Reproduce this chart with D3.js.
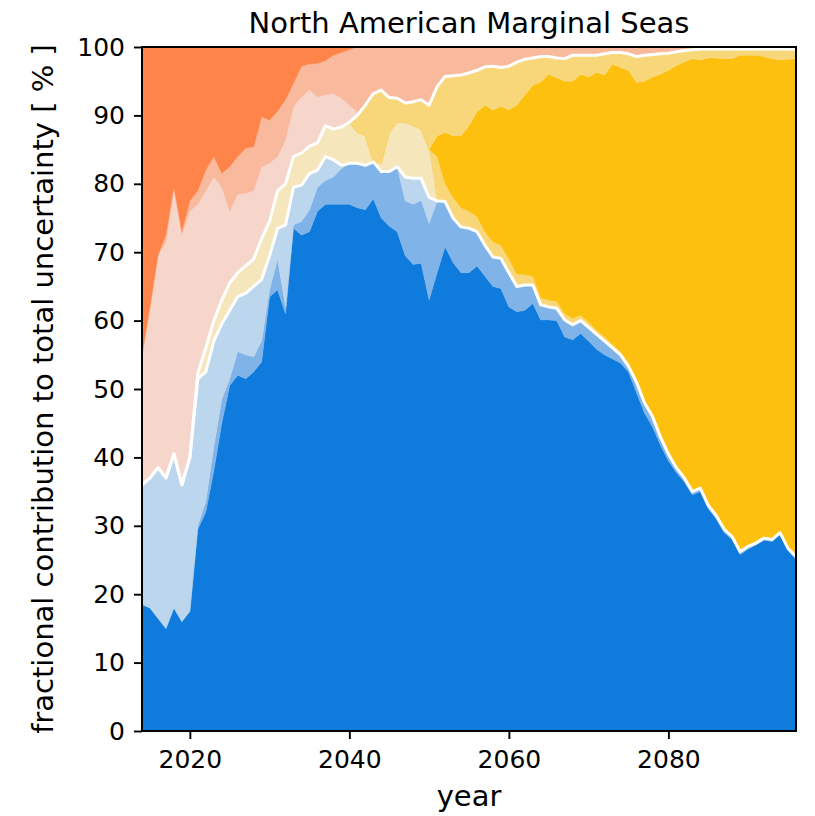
<!DOCTYPE html>
<html lang="en">
<head>
<meta charset="UTF-8">
<title>North American Marginal Seas</title>
<script src="https://d3js.org/d3.v7.min.js"></script>
<style>
  body { margin: 0; background: #fff; }
  svg { display: block; font-family: "DejaVu Sans", sans-serif; }
</style>
</head>
<body>
<svg id="chart" width="815" height="816"></svg>
<script>
// years on the x axis
const years = d3.range(2014, 2097);

// upper edge of each coloured band, in % (null = band absent that year)
const blueDarkTop = [
  18.5, 18.0, 16.5, 15.0, 18.0, 16.0, 17.5, 29.5, 32.0, 38.0,
  45.0, 50.5, 52.0, 51.5, 52.5, 54.0, 63.5, 64.5, 61.0, 73.5,
  72.5, 73.0, 76.0, 77.0, 77.0, 77.0, 77.0, 76.5, 76.2, 77.8,
  75.0, 73.8, 73.0, 69.5, 68.2, 68.4, 63.0, 67.0, 70.8, 68.5,
  67.0, 67.0, 68.0, 66.5, 65.0, 64.7, 62.0, 61.3, 61.5, 62.5,
  60.1, 60.1, 60.0, 57.6, 57.2, 58.1, 57.0, 55.8, 55.0, 54.4,
  53.8, 52.5, 49.5, 46.5, 44.5, 41.8, 39.5, 37.8, 36.4, 34.5,
  35.0, 32.5, 31.0, 29.0, 28.0, 25.8, 26.6, 27.2, 27.9, 27.7,
  28.7, 26.4, 25.2
];
const blueMidTop = [
  18.5, 18.0, 16.5, 15.0, 18.0, 16.0, 17.5, 30.0, 33.5, 41.5,
  48.5, 51.5, 55.5, 55.0, 54.7, 57.0, 64.5, 69.0, 62.0, 74.0,
  74.5, 76.2, 79.5, 80.5, 81.0, 82.2, 83.0, 83.0, 82.7, 83.2,
  81.8, 81.8, 82.5, 77.5, 77.0, 77.6, 74.2, 77.5, 77.4, 75.0,
  73.7, 73.5, 73.0, 71.0, 69.3, 69.1, 67.0, 65.0, 65.2, 65.2,
  62.3, 62.0, 61.8, 60.1, 59.4, 60.0, 59.0, 58.0, 57.0, 56.0,
  55.0, 53.3, 51.0, 48.0, 46.0, 43.0, 40.5, 38.5, 37.0, 35.0,
  35.5, 33.0, 31.5, 29.5, 28.4, 26.2, 27.0, 27.5, 28.2, 28.0,
  29.0, 26.7, 25.5
];
const blueTop = [
  36.0, 37.0, 38.5, 37.0, 40.5, 36.0, 40.0, 51.5, 52.5, 57.0,
  59.5, 61.5, 63.5, 64.0, 65.0, 66.0, 69.5, 73.5, 74.0, 79.5,
  79.8, 81.5, 82.0, 84.0, 83.5, 82.7, 83.0, 83.0, 82.7, 83.2,
  81.8, 81.8, 82.5, 81.0, 80.8, 80.8, 78.0, 77.5, 77.4, 75.0,
  73.7, 73.5, 73.0, 71.0, 69.3, 69.1, 67.0, 65.0, 65.2, 65.2,
  62.3, 62.0, 61.8, 60.1, 59.4, 60.0, 59.0, 58.0, 57.0, 56.0,
  55.0, 53.3, 51.0, 48.0, 46.0, 43.0, 40.5, 38.5, 37.0, 35.0,
  35.5, 33.0, 31.5, 29.5, 28.4, 26.2, 27.0, 27.5, 28.2, 28.0,
  29.0, 26.7, 25.5
];
const yellowLightTop = [
  null, null, null, null, null, null, null, 52.3, 56.0, 60.0,
  63.0, 65.5, 67.0, 68.0, 69.0, 72.0, 74.5, 79.0, 80.0, 84.0,
  84.5, 85.5, 86.0, 88.5, 88.0, 88.3, 89.0, 87.5, 87.0, 83.2,
  83.0, 87.5, 89.0, 89.0, 88.5, 88.0, 85.0, null, null, null,
  null, null, null, null, null, null, null, null, null, null,
  null, null, null, null, null, null, null, null, null, null,
  null, null, null, null, null, null, null, null, null, null,
  null, null, null, null, null, null, null, null, null, null,
  null, null, null
];
const yellowMidTop = [
  null, null, null, null, null, null, null, null, null, null,
  null, null, null, null, null, null, null, null, null, null,
  null, null, null, null, null, null, null, null, null, null,
  null, null, null, null, null, null, null, 84.0, 80.0, 78.0,
  76.5, 76.0, 75.2, 73.0, 71.5, 71.0, 69.0, 66.8, 66.7, 66.5,
  63.3, 63.0, 62.8, 61.0, 60.3, 60.8, 59.8, 58.6, 57.6, 56.5,
  55.5, 53.8, 51.4, 48.3, 46.2, 43.2, 40.6, 38.6, null, null,
  null, null, null, null, null, null, null, null, null, null,
  null, null, null
];
const yellowDarkTop = [
  null, null, null, null, null, null, null, null, null, null,
  null, null, null, null, null, null, null, null, null, null,
  null, null, null, null, null, null, null, null, null, null,
  null, null, null, null, null, null, null, 87.0, 87.5, 87.0,
  87.0, 88.5, 90.5, 91.5, 90.8, 91.3, 90.8, 91.5, 93.0, 94.4,
  94.9, 96.0, 95.5, 95.0, 95.0, 96.0, 95.6, 96.3, 95.9, 97.5,
  97.0, 96.6, 94.8, 95.0, 95.6, 96.0, 96.6, 97.3, 97.8, 98.3,
  98.1, 98.4, 98.4, 98.3, 98.3, 98.8, 98.8, 98.8, 98.6, 98.3,
  98.1, 98.2, 98.3
];
const yellowTop = [
  null, null, null, null, null, null, null, 52.3, 56.0, 60.0,
  63.0, 65.5, 67.0, 68.0, 69.0, 72.0, 74.5, 79.0, 80.0, 84.0,
  84.5, 85.5, 86.0, 88.5, 88.0, 88.3, 89.0, 90.0, 91.5, 93.2,
  93.7, 92.6, 92.5, 91.8, 92.0, 92.3, 91.5, 94.2, 95.7, 95.8,
  95.9, 96.2, 96.6, 97.1, 97.2, 97.0, 97.2, 97.8, 98.2, 98.4,
  98.6, 98.6, 98.4, 98.3, 98.8, 98.8, 98.8, 98.8, 99.0, 99.2,
  99.2, 99.0, 98.6, 98.8, 98.9, 99.0, 99.1, 99.3, 99.5, 99.6,
  99.7, 99.7, 99.7, 99.7, 99.7, 99.7, 99.7, 99.7, 99.7, 99.7,
  99.7, 99.7, 99.7
];
const orangeLightTop = [
  55.0, 62.0, 69.5, 71.5, 79.5, 72.5, 76.0, 77.0, 79.0, 81.0,
  79.5, 76.0, 78.5, 78.6, 79.0, 82.5, 83.0, 84.0, 86.4, 91.3,
  92.7, 93.7, 92.7, 93.0, 93.2, 92.5, 91.5, 90.5, null, null,
  null, null, null, null, null, null, null, null, null, null,
  null, null, null, null, null, null, null, null, null, null,
  null, null, null, null, null, null, null, null, null, null,
  null, null, null, null, null, null, null, null, null, null,
  null, null, null, null, null, null, null, null, null, null,
  null, null, null
];
const orangeMidTop = [
  55.0, 62.0, 69.5, 72.5, 79.5, 73.0, 77.5, 79.0, 82.0, 84.0,
  81.5, 82.5, 84.0, 85.2, 85.4, 89.8, 89.3, 90.6, 92.3, 94.7,
  97.2, 97.5, 97.6, 98.0, 98.8, 99.2, 99.6, 100, 100, 100,
  100, 100, 100, 100, 100, 100, 100, 100, 100, 100,
  100, 100, 100, 100, 100, 100, 100, 100, 100, 100,
  100, 100, 100, 100, 100, 100, 100, 100, 100, 100,
  100, 100, 100, 100, 100, 100, 100, 100, 100, 100,
  100, 100, 100, 100, 100, 100, 100, 100, 100, 100,
  100, 100, 100
];

const yTicks = [0, 10, 20, 30, 40, 50, 60, 70, 80, 90, 100];
const xTicks = [2020, 2040, 2060, 2080];

const bands = [
  { key: "blueDark",   top: blueDarkTop,    color: "#0f7cdd" },
  { key: "blueMid",    top: blueMidTop,     color: "#80b3e8" },
  { key: "blueLight",  top: blueTop,        color: "#bcd6ee" },
  { key: "yelLight",   top: yellowLightTop, color: "#f6e6bb" },
  { key: "yelMidLow",  top: yellowMidTop,   color: "#f8d77b" },
  { key: "yelDark",    top: yellowDarkTop,  color: "#fdc00f" },
  { key: "yelMidHigh", top: yellowTop,      color: "#f8d77b" },
  { key: "orgLight",   top: orangeLightTop, color: "#f6d6ca" },
  { key: "orgMid",     top: orangeMidTop,   color: "#f8b99d" },
  { key: "orgDark",    top: null,           color: "#fe844a" }
];

// turn band edges into band thicknesses for d3.stack
const rows = years.map((yr, i) => {
  const row = { year: yr };
  let prev = 0;
  bands.forEach(b => {
    let edge = b.top ? b.top[i] : 100;
    if (edge == null) edge = prev;
    edge = Math.max(prev, edge);
    row[b.key] = edge - prev;
    prev = edge;
  });
  return row;
});

const margin = { top: 47, right: 19, bottom: 85, left: 142 };
const width = 815, height = 816;

const svg = d3.select("#chart");

const x = d3.scaleLinear().domain([2014, 2096]).range([margin.left, width - margin.right]);
const y = d3.scaleLinear().domain([0, 100]).range([height - margin.bottom, margin.top]);

const series = d3.stack().keys(bands.map(b => b.key))(rows);

svg.append("clipPath").attr("id", "plot-clip")
  .append("rect")
  .attr("x", x(2014)).attr("y", y(100))
  .attr("width", x(2096) - x(2014)).attr("height", y(0) - y(100));

const plot = svg.append("g").attr("clip-path", "url(#plot-clip)");

const area = d3.area()
  .x(d => x(d.data.year))
  .y0(d => y(d[0]))
  .y1(d => y(d[1]));

plot.selectAll("path.band")
  .data(series)
  .join("path")
  .attr("class", "band")
  .attr("fill", (d, i) => bands[i].color)
  .attr("stroke", (d, i) => bands[i].color)
  .attr("stroke-width", 0.4)
  .attr("d", area);

// white separators on top of the blue and the yellow groups
const edgeLine = d3.line()
  .x(d => x(d.data.year))
  .y(d => y(d[1]));

[series[2], series[6]].forEach(s => {
  plot.append("path")
    .attr("d", edgeLine(s))
    .attr("fill", "none")
    .attr("stroke", "white")
    .attr("stroke-width", 3)
    .attr("stroke-linejoin", "round");
});

// axes
const yAxis = svg.append("g")
  .attr("transform", `translate(${margin.left},0)`)
  .call(d3.axisLeft(y).tickValues(yTicks).tickSize(8).tickPadding(9));

const xAxis = svg.append("g")
  .attr("transform", `translate(0,${height - margin.bottom})`)
  .call(d3.axisBottom(x).tickValues(xTicks).tickFormat(d3.format("d")).tickSize(8).tickPadding(11));

[yAxis, xAxis].forEach(g => {
  g.select(".domain").remove();
  g.selectAll(".tick line").attr("stroke", "black").attr("stroke-width", 1.9);
  g.selectAll(".tick text")
    .attr("fill", "black")
    .style("font-family", "'DejaVu Sans', sans-serif")
    .style("font-size", "25px");
});

svg.append("rect")
  .attr("x", x(2014)).attr("y", y(100))
  .attr("width", x(2096) - x(2014)).attr("height", y(0) - y(100))
  .attr("fill", "none")
  .attr("stroke", "black")
  .attr("stroke-width", 2);

svg.append("text")
  .attr("x", (x(2014) + x(2096)) / 2)
  .attr("y", 33)
  .attr("text-anchor", "middle")
  .style("font-size", "29px")
  .text("North American Marginal Seas");

svg.append("text")
  .attr("x", (x(2014) + x(2096)) / 2)
  .attr("y", 806)
  .attr("text-anchor", "middle")
  .style("font-size", "29px")
  .text("year");

svg.append("text")
  .attr("transform", `translate(53,${(y(0) + y(100)) / 2}) rotate(-90)`)
  .attr("text-anchor", "middle")
  .style("font-size", "29px")
  .text("fractional contribution to total uncertainty [ % ]");
</script>
</body>
</html>
